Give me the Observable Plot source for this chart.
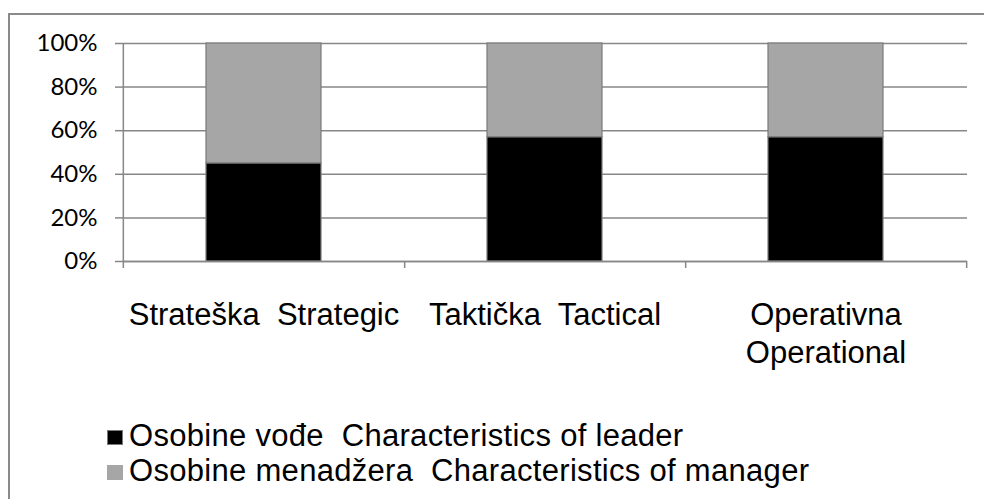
<!DOCTYPE html>
<html>
<head>
<meta charset="utf-8">
<script src="https://cdn.jsdelivr.net/npm/d3@7"></script>
<script src="https://cdn.jsdelivr.net/npm/@observablehq/plot@0.6"></script>
<style>
  html, body { margin: 0; padding: 0; background: #fff; overflow: hidden; width: 984px; height: 499px; }
  #frame { position: absolute; left: 8px; top: 13px; width: 1200px; height: 800px; border-left: 2px solid #8a8a8a; border-top: 2px solid #8a8a8a; }
  #chart { position: absolute; left: 0; top: 0; }
  #legend { position: absolute; left: 107px; top: 0; font-family: "Liberation Sans", Arial, sans-serif; font-size: 31px; letter-spacing: 0.3px; color: #000; }
  .row { position: absolute; left: 0; white-space: pre; display: flex; align-items: center; height: 34px; }
  .sw { width: 16px; height: 15px; margin-right: 6px; margin-top: 2px; box-sizing: border-box; }
</style>
</head>
<body>
<div id="frame"></div>
<div id="chart"></div>
<div id="legend"></div>
<script>
// ---- data ----
const categories = ["Strateška\u00a0 Strategic", "Taktička\u00a0 Tactical", "Operativna\nOperational"];
const seriesNames = ["Osobine vođe\u00a0 Characteristics of leader", "Osobine menadžera\u00a0 Characteristics of manager"];
const leaderValues = [0.45, 0.57, 0.57];
const managerValues = [0.55, 0.43, 0.43];
const yTicks = [0, 0.2, 0.4, 0.6, 0.8, 1];
const seriesColors = ["#000000", "#a6a6a6"];

const rows = [];
categories.forEach((c, i) => {
  rows.push({category: c, series: seriesNames[0], value: leaderValues[i]});
  rows.push({category: c, series: seriesNames[1], value: managerValues[i]});
});

const W = 984, H = 380;
const mL = 123, mR = 17, mT = 43, mB = 119;
const step = (W - mL - mR) / categories.length;
const axisColor = "#878787";

const plot = Plot.plot({
  width: W,
  height: H,
  marginLeft: mL,
  marginRight: mR,
  marginTop: mT,
  marginBottom: mB,
  style: {fontFamily: "'Liberation Sans', Arial, sans-serif", background: "transparent", overflow: "visible"},
  x: {domain: categories, paddingInner: 0.59, paddingOuter: 0.295, label: null},
  y: {domain: [0, 1], label: null},
  color: {domain: seriesNames, range: seriesColors},
  marks: [
    Plot.gridY(yTicks, {stroke: axisColor, strokeOpacity: 1, strokeWidth: 1.5}),
    Plot.barY(rows, {x: "category", y: "value", fill: "series", stroke: "#7a7a7a", strokeWidth: 1.2, order: seriesNames}),
    Plot.ruleY([0], {stroke: axisColor, strokeWidth: 1.5}),
    Plot.ruleX([categories[0]], {x: d => d, dx: -step / 2, y1: 1, y2: 0, insetBottom: -7, stroke: axisColor, strokeWidth: 1.5}),
    Plot.ruleX(categories, {x: d => d, dx: step / 2, y1: 0, y2: 0, insetBottom: -7, stroke: axisColor, strokeWidth: 1.5}),
    Plot.axisY(yTicks, {tickSize: 8, tickPadding: 18, tickFormat: d3.format(".0%"), stroke: axisColor, strokeWidth: 1.5, fontSize: 24, fontFamily: "Lato, 'Open Sans', sans-serif", fill: "#000", label: null}),
    Plot.axisX({tickSize: 0, tickPadding: 36, fontSize: 31, lineHeight: 1.23, fill: "#000", label: null})
  ]
});
document.getElementById("chart").appendChild(plot);

// legend
const legend = document.getElementById("legend");
const rowTops = [419, 454];
seriesNames.forEach((name, i) => {
  const r = document.createElement("div");
  r.className = "row";
  r.style.top = rowTops[i] + "px";
  const sw = document.createElement("div");
  sw.className = "sw";
  sw.style.background = seriesColors[i];
  if (i === 0) sw.style.border = "1px solid #7a7a7a";
  const t = document.createElement("span");
  t.textContent = name;
  r.appendChild(sw);
  r.appendChild(t);
  legend.appendChild(r);
});
</script>
</body>
</html>
